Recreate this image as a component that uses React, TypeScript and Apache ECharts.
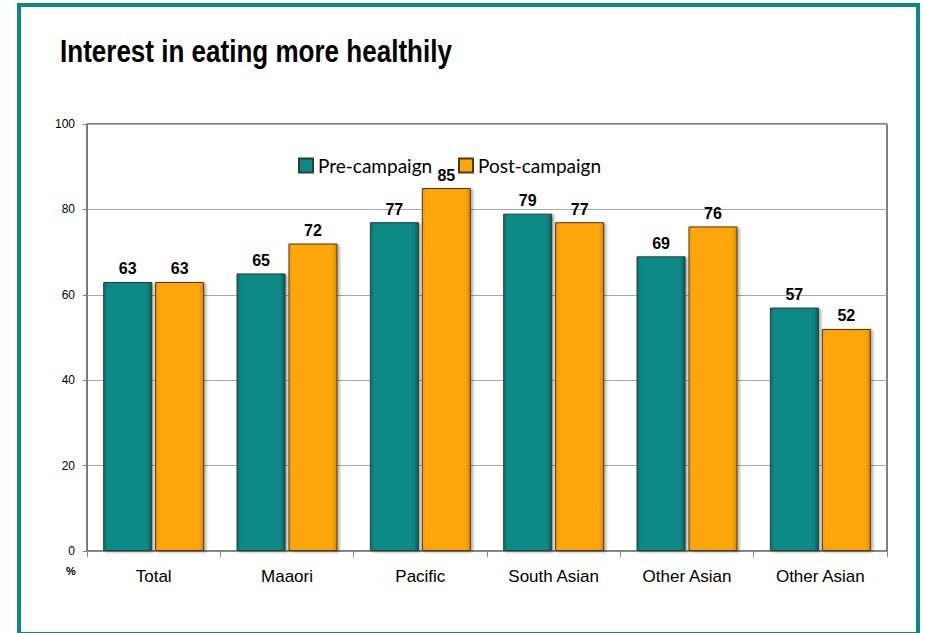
import React, { useEffect, useRef } from "react";
import * as echarts from "echarts";

const title = "Interest in eating more healthily";
const categories = ["Total", "Maaori", "Pacific", "South Asian", "Other Asian", "Other Asian"];
const preCampaign = [63, 65, 77, 79, 69, 57];
const postCampaign = [63, 72, 85, 77, 76, 52];
const seriesNames = ["Pre-campaign", "Post-campaign"];
const yTicks = { min: 0, max: 100, interval: 20 };
const yUnit = "%";

const NARROW = '"Liberation Sans Narrow", "Arial Narrow", "Liberation Sans", Arial, sans-serif';
const LEGEND_FONT = 'Lato, "Open Sans", sans-serif';

const tealFill = new echarts.graphic.LinearGradient(0, 0, 1, 0, [
  { offset: 0, color: "#0a6f6b" },
  { offset: 0.08, color: "#0b8985" },
  { offset: 0.9, color: "#0b8985" },
  { offset: 1, color: "#065c59" },
]);
const orangeFill = new echarts.graphic.LinearGradient(0, 0, 1, 0, [
  { offset: 0, color: "#f29a05" },
  { offset: 0.08, color: "#ffa608" },
  { offset: 0.9, color: "#ffa608" },
  { offset: 1, color: "#dc8a00" },
]);

export default function App() {
  const ref = useRef<HTMLDivElement>(null);
  useEffect(() => {
    if (!ref.current) return;
    const chart = echarts.init(ref.current, null, { renderer: "svg" });
    const label = {
      show: true,
      position: "top",
      distance: 5,
      fontFamily: NARROW,
      fontWeight: "bold",
      fontSize: 16,
      color: "#000",
    };
    const common = {
      type: "bar",
      barWidth: 49,
      barGap: "6%",
      label,
    };
    const legendCommon = {
      top: 156,
      padding: 0,
      icon: "rect",
      itemWidth: 14,
      itemHeight: 14,
      itemGap: 0,
      textStyle: { fontFamily: LEGEND_FONT, fontSize: 19, color: "#000" },
    };
    chart.setOption({
      animation: false,
      backgroundColor: "#fff",
      graphic: [
        {
          type: "rect",
          shape: { x: 19, y: 5, width: 899, height: 629 },
          style: { fill: "none", stroke: "#0b8784", lineWidth: 4 },
          z: 100,
        },
        {
          type: "text",
          x: 60,
          y: 51,
          scaleX: 0.84,
          style: {
            text: title,
            fontFamily: NARROW,
            fontWeight: "bold",
            fontSize: 31,
            fill: "#000",
            textVerticalAlign: "middle",
          },
        },
        {
          type: "text",
          x: 71,
          y: 571,
          style: {
            text: yUnit,
            fontFamily: NARROW,
            fontWeight: "bold",
            fontSize: 11,
            fill: "#000",
            textAlign: "center",
            textVerticalAlign: "middle",
          },
        },
      ],
      legend: [
        { ...legendCommon, data: [seriesNames[0]], left: 298 },
        { ...legendCommon, data: [seriesNames[1]], left: 458 },
      ],
      grid: {
        left: 87,
        top: 124,
        right: 39,
        bottom: 82,
        show: true,
        borderColor: "#000",
        borderWidth: 1,
        backgroundColor: "transparent",
      },
      xAxis: {
        type: "category",
        data: categories,
        axisLine: { show: true, lineStyle: { color: "#8c8c8c", width: 1 } },
        axisTick: { show: true, length: 6, lineStyle: { color: "#8c8c8c" } },
        axisLabel: { fontFamily: NARROW, fontSize: 17, color: "#000", margin: 17 },
      },
      yAxis: {
        type: "value",
        min: yTicks.min,
        max: yTicks.max,
        interval: yTicks.interval,
        axisLine: { show: true, lineStyle: { color: "#7a7a7a", width: 1 } },
        axisTick: { show: true, length: 4, lineStyle: { color: "#7a7a7a" } },
        axisLabel: { fontFamily: NARROW, fontSize: 12, color: "#000", margin: 12 },
        splitLine: { show: true, lineStyle: { color: "#a8a8a8", width: 1 } },
      },
      series: [
        {
          ...common,
          name: seriesNames[0],
          data: preCampaign,
          itemStyle: {
            color: tealFill,
            borderColor: "#2d3b3a",
            borderWidth: 1,
            shadowColor: "rgba(0,0,0,0.35)",
            shadowBlur: 3,
            shadowOffsetX: 2,
            shadowOffsetY: 1,
          },
        },
        {
          ...common,
          name: seriesNames[1],
          data: postCampaign,
          itemStyle: {
            color: orangeFill,
            borderColor: "#4a3a1a",
            borderWidth: 1,
            shadowColor: "rgba(0,0,0,0.35)",
            shadowBlur: 3,
            shadowOffsetX: 2,
            shadowOffsetY: 1,
          },
        },
      ],
    });
    return () => chart.dispose();
  }, []);
  return (
    <div
      ref={ref}
      style={{ position: "absolute", left: 0, top: 0, width: 926, height: 633 }}
    />
  );
}
